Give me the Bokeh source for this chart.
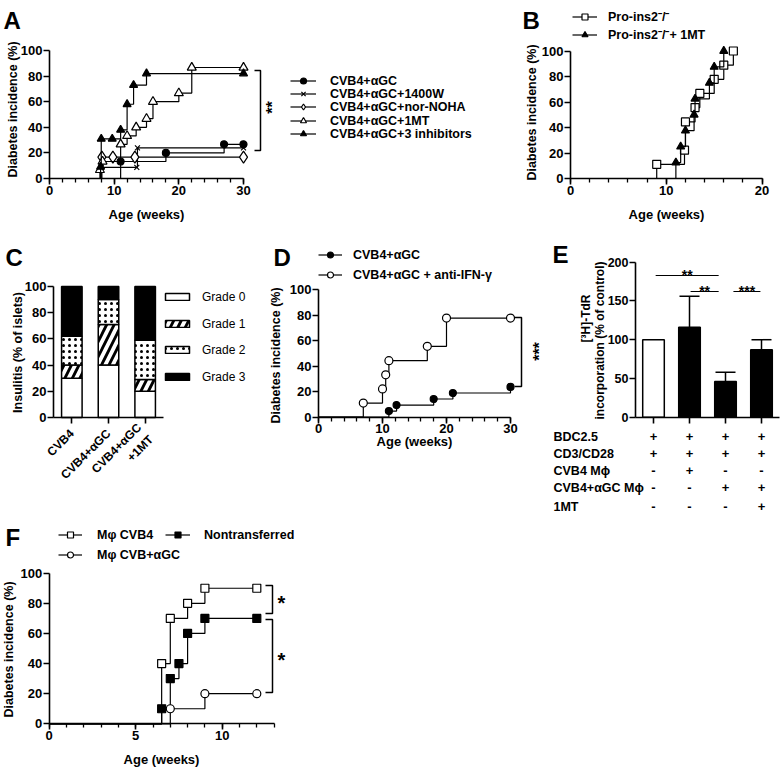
import numpy as np
from bokeh.plotting import figure
from bokeh.layouts import row, column
from bokeh.models import (Range1d, Label, Legend, LegendItem,
                          FixedTicker, Whisker, TeeHead, ColumnDataSource)
from bokeh.embed import file_html
from bokeh.resources import INLINE

FONT = "Liberation Sans"
BLACK = "black"

# ---------------- data ----------------
# Panel A
A_labels = ["CVB4+αGC", "CVB4+αGC+1400W", "CVB4+αGC+nor-NOHA",
            "CVB4+αGC+1MT", "CVB4+αGC+3 inhibitors"]
a_agc_x = [11, 18, 27, 30]
a_agc_y = [13.3, 20.0, 26.7, 26.7]
a_w_x = [8, 13.5, 13.6, 30]
a_w_y = [8.7, 8.7, 23.9, 23.9]
a_noha_x = [8.1, 9.8, 13.2, 30]
a_noha_y = [16.7, 16.7, 16.7, 16.7]
a_mt_x = [7.8, 8.2, 11, 12, 13.4, 15, 16, 20, 22, 30]
a_mt_y = [6.7, 13.3, 26.7, 33.3, 40.0, 46.7, 60.0, 66.7, 86.7, 86.7]
a_inh_x = [7.9, 8, 9.7, 11, 12, 13, 15, 30]
a_inh_y = [9.1, 31.0, 31.0, 38.0, 58.0, 73.0, 82.0, 82.0]
A_xticks = [0, 10, 20, 30]
INC_yticks = [0, 20, 40, 60, 80, 100]

# Panel B
B_labels = ["Pro-ins2⁻/⁻", "Pro-ins2⁻/⁻+ 1MT"]
b_ko_x = [9, 11.9, 12, 13, 13.5, 15, 16, 17]
b_ko_y = [11.1, 22.2, 44.4, 55.6, 66.7, 77.8, 88.9, 100]
b_mt_x = [11, 11.5, 12, 12.9, 13, 14.5, 15, 16]
b_mt_y = [12.5, 25, 37.5, 50, 62.5, 75, 87.5, 100]
B_xticks = [0, 10, 20]

# Panel C
C_groups = ["CVB4", "CVB4+αGC", "CVB4+αGC\n+1MT"]
C_grades = ["Grade 0", "Grade 1", "Grade 2", "Grade 3"]
c_g0 = [30, 40, 20]
c_g1 = [10, 31, 9]
c_g2 = [22, 19, 30]
c_g3 = [38, 10, 41]

# Panel D
D_labels = ["CVB4+αGC", "CVB4+αGC + anti-IFN-γ"]
d_agc_x = [11, 12.2, 18, 21, 30]
d_agc_y = [4.8, 9.5, 14.3, 19.0, 23.8]
d_ifn_x = [7, 10, 10.5, 11, 17, 20, 30]
d_ifn_y = [11.1, 22.2, 33.3, 44.4, 55.6, 77.8, 77.8]
D_xticks = [0, 10, 20, 30]

# Panel E
E_groups = ["control", "CVB4 Mϕ", "CVB4+αGC Mϕ", "CVB4+αGC Mϕ + 1MT"]
e_mean = [100, 116, 46, 87]
e_err = [0, 40, 12, 13]
E_rows = ["BDC2.5", "CD3/CD28", "CVB4 Mϕ", "CVB4+αGC Mϕ", "1MT"]
E_table = [["+", "+", "+", "+"],
           ["+", "+", "+", "+"],
           ["-", "+", "-", "-"],
           ["-", "-", "+", "+"],
           ["-", "-", "-", "+"]]
E_yticks = [0, 50, 100, 150, 200]

# Panel F
F_labels = ["Mφ CVB4", "Nontransferred", "Mφ CVB+αGC"]
f_cvb4_x = [6.5, 7, 8, 9, 12]
f_cvb4_y = [40, 70, 80, 90, 90]
f_non_x = [6.5, 7, 7.5, 8, 9, 12]
f_non_y = [10, 30, 40, 60, 70, 70]
f_agc_x = [7, 9, 12]
f_agc_y = [10, 20, 20]
F_xticks = [0, 5, 10]


# ---------------- helpers ----------------
class Panel:
    """fig_box is (left, top, right, bottom) in page pixels; the plot frame
    covers the whole figure and the axes sit at fixed data locations."""
    def __init__(self, fig_box, xmap, ymap, xbounds, ybounds):
        L, T, R, B = fig_box
        self.x0, self.sx = xmap
        self.y0, self.sy = ymap
        self.L, self.B = L, B
        p = figure(width=R - L, height=B - T,
                   x_range=Range1d(self.dx(L), self.dx(R)),
                   y_range=Range1d(self.dy(B), self.dy(T)),
                   min_border=0, toolbar_location=None,
                   output_backend="svg", title=None)
        p.outline_line_color = None
        p.grid.visible = False
        p.background_fill_color = "white"
        p.border_fill_color = "white"
        p.xaxis.fixed_location = ybounds[0]
        p.yaxis.fixed_location = xbounds[0]
        p.xaxis.bounds = xbounds
        p.yaxis.bounds = ybounds
        for ax in p.axis:
            ax.axis_line_color = BLACK
            ax.axis_line_width = 1.6
            ax.major_tick_line_color = BLACK
            ax.major_tick_line_width = 1.6
            ax.minor_tick_line_color = BLACK
            ax.minor_tick_line_width = 1.3
            ax.major_tick_in = 0
            ax.major_tick_out = 6
            ax.minor_tick_in = 0
            ax.minor_tick_out = 4
            ax.major_label_text_font = FONT
            ax.major_label_text_font_style = "bold"
            ax.major_label_text_font_size = "13px"
            ax.major_label_text_color = BLACK
            ax.major_label_standoff = 1
        self.p = p

    def dx(self, px):
        return (px - self.x0) / self.sx

    def dy(self, py):
        return (self.y0 - py) / self.sy

    def ticks(self, xticks, xminor, yticks):
        self.p.xaxis.ticker = FixedTicker(ticks=list(xticks), minor_ticks=list(xminor))
        self.p.yaxis.ticker = FixedTicker(ticks=list(yticks), minor_ticks=[])

    def text(self, px, py, txt, size="13px", bold=True, angle=0.0,
             align="center", baseline="middle", data_x=None):
        x = self.dx(px) if data_x is None else data_x
        lab = Label(x=x, y=self.dy(py), text=txt, angle=angle,
                    text_align=align, text_baseline=baseline,
                    text_font=FONT, text_font_size=size,
                    text_font_style="bold" if bold else "normal",
                    text_color=BLACK)
        self.p.add_layout(lab)

    def legend(self, items, glyph_left, first_center, pitch, gw, standoff,
               h=15, glyph_h=None, size="12.5px", bold=True):
        centers = np.round(first_center + pitch * np.arange(len(items)))
        for it, c in zip(items, centers):
            lg = Legend(items=[it],
                        location=(glyph_left - self.L, float(self.B - (c + h // 2 + 1))),
                        orientation="vertical", glyph_width=gw,
                        glyph_height=glyph_h or h, label_height=h,
                        spacing=0, padding=0, margin=0,
                        label_standoff=standoff, border_line_color=None,
                        background_fill_alpha=0, label_text_font=FONT,
                        label_text_font_size=size,
                        label_text_font_style="bold" if bold else "normal",
                        label_text_color=BLACK)
            self.p.add_layout(lg)


def stairs(xs, ys):
    sx, sy, prev = [0.0], [0.0], 0.0
    for x, y in zip(xs, ys):
        sx += [x, x]
        sy += [prev, y]
        prev = y
    return sx, sy


def km(pn, xs, ys, marker, fill, size):
    sx, sy = stairs(xs, ys)
    ln = pn.p.line(sx, sy, line_color=BLACK, line_width=1.2)
    sc = pn.p.scatter(xs, ys, marker=marker, size=size, fill_color=fill,
                      line_color=BLACK, line_width=1.2)
    return [ln, sc]


def bracket(pn, px, py1, py2, arm=6):
    x, xa = pn.dx(px), pn.dx(px - arm)
    pn.p.line([xa, x, x, xa], [pn.dy(py1), pn.dy(py1), pn.dy(py2), pn.dy(py2)],
              line_color=BLACK, line_width=1.5)


# ---------------- Panel A ----------------
pA = Panel((0, 0, 505, 228), (49, 6.467), (178, 1.28), (0, 30), (0, 100))
pA.ticks(A_xticks, np.arange(0, 31, 2), INC_yticks)
rA = [km(pA, a_agc_x, a_agc_y, "circle", BLACK, 7),
      km(pA, a_w_x, a_w_y, "x", BLACK, 7),
      km(pA, a_noha_x, a_noha_y, "diamond", "white", 12),
      km(pA, a_mt_x, a_mt_y, "triangle", "white", 9),
      km(pA, a_inh_x, a_inh_y, "triangle", BLACK, 8)]
pA.legend([LegendItem(label=l, renderers=r) for l, r in zip(A_labels, rA)],
          290, 80, 13.25, 26, 14)
bracket(pA, 260, 70, 150)
pA.text(272, 107, "**", size="16px", angle=np.pi / 2, baseline="alphabetic")
pA.text(12, 109, "Diabetes incidence (%)", size="12.5px", angle=np.pi / 2)
pA.text(146, 214, "Age (weeks)")
pA.text(3, 20, "A", size="24px", align="left", baseline="alphabetic")

# ---------------- Panel B ----------------
pB = Panel((505, 0, 781, 228), (570, 9.58), (178, 1.275), (0, 20), (0, 100))
pB.ticks(B_xticks, np.arange(0, 21, 2), INC_yticks)
rB = [km(pB, b_ko_x, b_ko_y, "square", "white", 8),
      km(pB, b_mt_x, b_mt_y, "triangle", BLACK, 8)]
pB.legend([LegendItem(label=l, renderers=r) for l, r in zip(B_labels, rB)],
          572, 17, 18, 25, 11)
pB.text(531, 112, "Diabetes incidence (%)", size="12.5px", angle=np.pi / 2)
pB.text(666, 214, "Age (weeks)")
pB.text(522, 20, "B", size="24px", align="left", baseline="alphabetic")

# ---------------- Panel C ----------------
c_pos = np.arange(len(C_groups)) + 0.5
pC = Panel((0, 228, 255, 516), (53, 110 / 3), (417, 1.31), (0, len(C_groups)), (0, 100))
pC.ticks(c_pos, [], INC_yticks)
pC.p.xaxis.major_label_overrides = {float(x): g for x, g in zip(c_pos, C_groups)}
pC.p.xaxis.major_label_orientation = np.pi / 4
pC.p.xaxis.major_label_text_font_size = "12px"
pC.p.xaxis.major_label_standoff = 8
stack = np.array([c_g0, c_g1, c_g2, c_g3], dtype=float)
tops = np.cumsum(stack, axis=0)
bottoms = tops - stack
c_styles = [dict(fill_color="white"),
            dict(fill_color="white", hatch_pattern="/", hatch_scale=15,
                 hatch_weight=2.8, hatch_color=BLACK),
            dict(fill_color="white", hatch_pattern=".", hatch_scale=6,
                 hatch_weight=0.8, hatch_color=BLACK),
            dict(fill_color=BLACK)]
rC = []
for i in range(len(C_grades)):
    rC.append(pC.p.vbar(x=c_pos, bottom=bottoms[i], top=tops[i], width=0.56,
                        line_color=BLACK, line_width=1.5, **c_styles[i]))
pC.legend([LegendItem(label=l, renderers=[r]) for l, r in zip(C_grades, rC)],
          162, 296, 26.67, 30, 10, glyph_h=9, size="12px", bold=False)
pC.text(17, 352, "Insulitis (% of islets)", size="12.5px", angle=np.pi / 2)
pC.text(5, 257, "C", size="24px", align="left", baseline="alphabetic")

# ---------------- Panel D ----------------
pD = Panel((255, 228, 551, 516), (318, 6.4), (416.7, 1.274), (0, 30), (0, 100))
pD.ticks(D_xticks, np.arange(0, 31, 2), INC_yticks)
rD = [km(pD, d_agc_x, d_agc_y, "circle", BLACK, 7),
      km(pD, d_ifn_x, d_ifn_y, "circle", "white", 8)]
pD.legend([LegendItem(label=l, renderers=r) for l, r in zip(D_labels, rD)],
          318, 254, 20, 24, 11)
bracket(pD, 521, 317, 386, arm=7)
pD.text(539, 351, "***", size="16px", angle=np.pi / 2, baseline="alphabetic")
pD.text(275, 355, "Diabetes incidence (%)", size="12.5px", angle=np.pi / 2)
pD.text(414, 441, "Age (weeks)")
pD.text(273, 257, "D", size="24px", align="left", baseline="alphabetic")

# ---------------- Panel E ----------------
e_pos = np.arange(len(E_groups)) + 0.5
pE = Panel((551, 228, 781, 516), (635, 36), (416.7, 0.775), (0, len(E_groups)), (0, 200))
pE.ticks(e_pos, [], E_yticks)
pE.p.yaxis.major_label_text_font_size = "12.5px"
pE.p.xaxis.major_label_overrides = {float(x): "" for x in e_pos}
e_colors = ["white", BLACK, BLACK, BLACK]
pE.p.vbar(x=e_pos, top=e_mean, width=0.6, fill_color=e_colors,
          line_color=BLACK, line_width=1.5)
mask = np.array(e_err) > 0
src = ColumnDataSource(dict(
    x=e_pos[mask],
    lo=np.array(e_mean, float)[mask],
    hi=(np.array(e_mean, float) + np.array(e_err, float))[mask]))
pE.p.add_layout(Whisker(source=src, base="x", lower="lo", upper="hi",
                        dimension="height", line_color=BLACK, line_width=1.5,
                        lower_head=None,
                        upper_head=TeeHead(size=20, line_width=1.5, line_color=BLACK)))
# significance lines (category units)
sig = [(0.56, 2.31, 275, "**"), (1.53, 2.31, 291, "**"), (2.72, 3.47, 291, "***")]
for xa, xb, py, s in sig:
    pE.p.line([xa, xb], [pE.dy(py), pE.dy(py)], line_color=BLACK, line_width=1.2)
    pE.text(0, py - 1, s, size="14px", baseline="alphabetic", data_x=(xa + xb) / 2)
row_y = [436, 453, 470, 487, 506]
for ry, name, signs in zip(row_y, E_rows, E_table):
    pE.text(553, ry, name, size="12.5px", align="left")
    for cx, s in zip(e_pos, signs):
        pE.text(0, ry, s, size="13px", data_x=cx)
pE.text(585, 318, "[³H]-TdR", size="12px", angle=np.pi / 2)
pE.text(599, 340, "incorporation (% of control)", size="12px", angle=np.pi / 2)
pE.text(552, 254, "E", size="24px", align="left", baseline="alphabetic")

# ---------------- Panel F ----------------
pF = Panel((0, 516, 781, 768), (48.7, 17.3), (723.3, 1.506), (0, 13), (0, 100))
pF.ticks(F_xticks, np.arange(0, 14, 1), INC_yticks)
rF = [km(pF, f_cvb4_x, f_cvb4_y, "square", "white", 8),
      km(pF, f_non_x, f_non_y, "square", BLACK, 8),
      km(pF, f_agc_x, f_agc_y, "circle", "white", 8)]
pF.legend([LegendItem(label=F_labels[0], renderers=rF[0]),
           LegendItem(label=F_labels[2], renderers=rF[2])],
          58, 534, 20, 24, 15)
pF.legend([LegendItem(label=F_labels[1], renderers=rF[1])],
          165, 534, 20, 25, 14)
bracket(pF, 272, 585, 613, arm=7)
bracket(pF, 272, 619, 692, arm=7)
pF.text(281, 602, "*", size="20px", baseline="alphabetic")
pF.text(281, 659, "*", size="20px", baseline="alphabetic")
pF.text(8, 649, "Diabetes incidence (%)", size="12.5px", angle=np.pi / 2)
pF.text(161, 759, "Age (weeks)")
pF.text(5, 537, "F", size="24px", align="left", baseline="alphabetic")

layout = column(row(pA.p, pB.p), row(pC.p, pD.p, pE.p), pF.p)
open("out.html", "w").write(file_html(layout, INLINE))
